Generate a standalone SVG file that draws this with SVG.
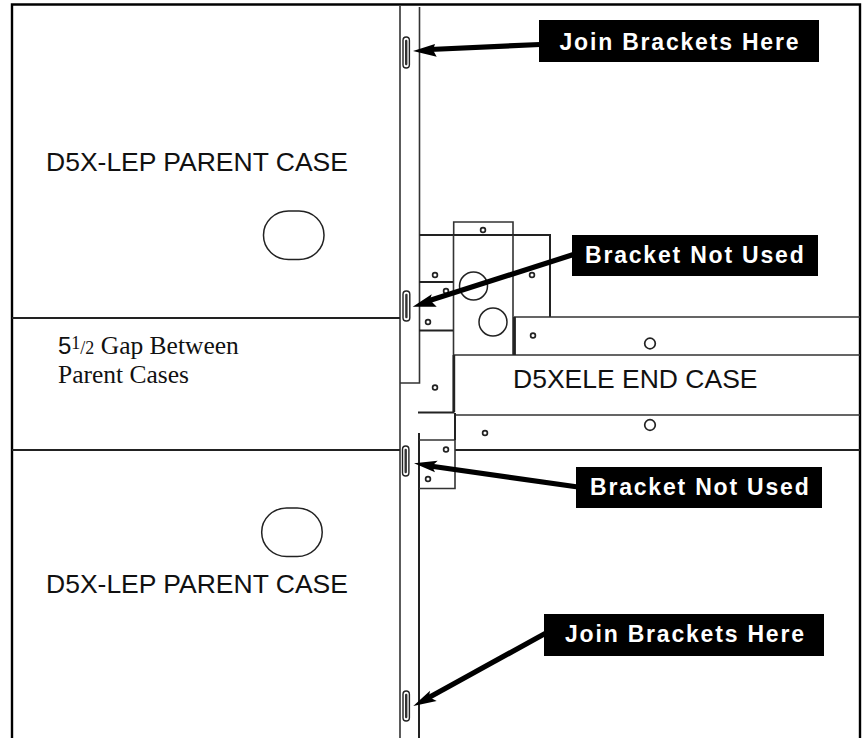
<svg xmlns="http://www.w3.org/2000/svg" width="868" height="738" viewBox="0 0 868 738">
<style>
.l{stroke:#333;stroke-width:1.6;fill:none}
.m{stroke:#222;stroke-width:2;fill:none}
.t{stroke:#222;stroke-width:2.8;fill:none}
.h{stroke:#222;stroke-width:1.7;fill:#fff}
.big{stroke:#222;stroke-width:1.5;fill:none}
.br{stroke:#222;stroke-width:1.4;fill:#fff}
.c{stroke:#333;stroke-width:2.4;stroke-linecap:round}
.a{stroke:#000;stroke-width:5.2;fill:none}
.ah{fill:#000}
.lab{font-family:"Liberation Sans",Arial,sans-serif;font-weight:bold;font-size:23px;letter-spacing:1.8px;fill:#fff}
.cap{font-family:"Liberation Sans",Arial,sans-serif;font-size:26.500px;fill:#111}
.ser{font-family:"Liberation Serif","Times New Roman",serif;font-size:25.500px;fill:#111}
</style>
<rect width="868" height="738" fill="#fff"/>
<g id="frame">
<path d="M12 738V4.500H860V738" fill="none" stroke="#000" stroke-width="2.400"/>
</g>
<g id="case-lines">
<path class="l" d="M400 6V738"/>
<path class="l" d="M419.500 7V383H400"/>
<path class="m" d="M419 433V738"/>
<path class="m" d="M12 318H400M12 450H400"/>
</g>
<g id="end-case">
<path class="l" d="M453.700 235V222H513V235"/>
<path class="m" d="M419.500 235H550V317"/>
<path class="l" d="M453.500 235V355M513 235V355"/>
<path class="m" d="M419 282H453M419 330.500H453M418 412.500H454.500"/>
<path class="l" d="M514 317H860M453 355H860M455 415H860"/>
<path class="m" d="M455 450H860"/>
<path class="t" d="M514.500 317V355M453.800 355V412"/>
<path class="l" d="M419 440H455V488.500H419"/>
<path class="m" d="M455 413V440"/>
<circle class="big" cx="473.500" cy="286" r="14"/>
<circle class="big" cx="493" cy="322" r="14"/>
<g class="h">
<circle cx="483" cy="230" r="2.400"/>
<circle cx="435" cy="275" r="2.400"/>
<circle cx="446" cy="291" r="2.400"/>
<circle cx="428" cy="322" r="2.400"/>
<circle cx="532" cy="275" r="2.400"/>
<circle cx="533" cy="335.500" r="2.400"/>
<circle cx="435" cy="387.500" r="2.400"/>
<circle cx="485" cy="433" r="2.400"/>
<circle cx="446" cy="449.500" r="2.400"/>
<circle cx="428" cy="479" r="2.400"/>
<circle cx="650" cy="343.500" r="5.300"/>
<circle cx="650" cy="425" r="5.300"/>
</g>
<text class="cap" x="513" y="388">D5XELE END CASE</text>
</g>
<g id="case-top">
<rect class="big" x="263.500" y="211" width="60.500" height="48.500" rx="25" ry="24"/>
<text class="cap" x="46" y="170.500">D5X-LEP PARENT CASE</text>
</g>
<g id="case-bottom">
<rect class="big" x="261.700" y="508" width="60.500" height="48.500" rx="25" ry="24"/>
<text class="cap" x="46" y="592.500">D5X-LEP PARENT CASE</text>
</g>
<g id="gap-note">
<text class="ser" x="58" y="354"><tspan font-family="Liberation Sans" font-size="24">5</tspan><tspan font-size="18" dy="-5">1</tspan><tspan font-size="18" dy="5">/2</tspan> Gap Between</text>
<text class="ser" x="58" y="382.500">Parent Cases</text>
</g>
<g id="brackets">
<g id="bracket-1"><rect class="br" x="403" y="37" width="6.400" height="31" rx="3.200"/><path class="c" d="M406.200 41V64"/></g>
<g id="bracket-2"><rect class="br" x="403" y="291" width="6.800" height="30" rx="3.200"/><path class="c" d="M406.400 295V317"/></g>
<g id="bracket-3"><rect class="br" x="402.500" y="446" width="6.400" height="30" rx="3.200"/><path class="c" d="M405.700 450V472"/></g>
<g id="bracket-4"><rect class="br" x="403" y="691" width="6.400" height="30" rx="3.200"/><path class="c" d="M406.200 695V717"/></g>
</g>
<g id="connectors">
<path class="a" d="M430 49.500L540 44.500"/>
<path class="ah" d="M413 51L435 44L433 50L436.700 56.700Z"/>
<path class="a" d="M428 301L575 254"/>
<path class="ah" d="M412.700 306.700L431.700 294.300L430 300L436.700 306.700Z"/>
<path class="a" d="M430 466L578 487"/>
<path class="ah" d="M414 463.300L437.700 460.700L432 466L435 472.300Z"/>
<path class="a" d="M428 698L546 633"/>
<path class="ah" d="M413.300 706L430 690.700L429 697L436.700 701Z"/>
</g>
<g id="label-join-1"><rect x="539" y="20" width="280" height="42"/><text class="lab" x="559.500" y="49.500">Join Brackets Here</text></g>
<g id="label-not-1"><rect x="572" y="235" width="246" height="41"/><text class="lab" x="585" y="262.500">Bracket Not Used</text></g>
<g id="label-not-2"><rect x="576" y="467" width="246" height="41"/><text class="lab" x="590" y="495">Bracket Not Used</text></g>
<g id="label-join-2"><rect x="544" y="614" width="280" height="42"/><text class="lab" x="565" y="641.700">Join Brackets Here</text></g>
</svg>
